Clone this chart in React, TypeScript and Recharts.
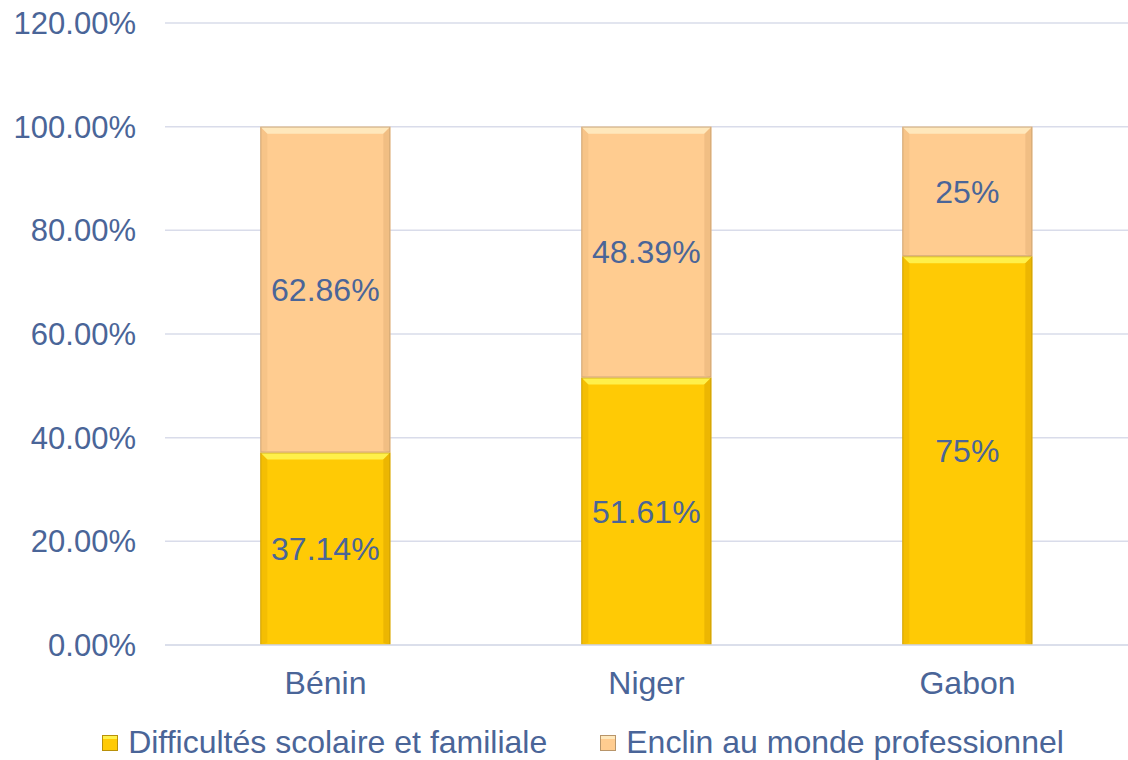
import { BarChart, Bar, XAxis, YAxis, CartesianGrid, Legend, LabelList } from "recharts";

const countries = ["Bénin", "Niger", "Gabon"];
const difficultes = [37.14, 51.61, 75];
const enclin = [62.86, 48.39, 25];
const yTicks = [0, 20, 40, 60, 80, 100, 120];

const seriesNames = ["Difficultés scolaire et familiale", "Enclin au monde professionnel"];

const data = countries.map((name, i) => ({
  name,
  difficultes: difficultes[i],
  enclin: enclin[i]
}));

const TEXT = "#4A6598";
const FONT = "'Liberation Sans', Arial, sans-serif";
const FS = 32;

const palettes: Record<string, { fill: string; light: string; dark: string; edge: string }> = {
  gold: { fill: "#FFCA05", light: "#FFF04A", dark: "#E0A800", edge: "#B8900A" },
  peach: { fill: "#FFCC90", light: "#FFE8BC", dark: "#E8B47C", edge: "#B8956A" }
};

function makeShape(key: string) {
  const p = palettes[key];
  return (props: any) => {
    const { x, y, width, height } = props;
    if (!height || height <= 0) return <g />;
    const d = Math.min(7, height / 2);
    return (
      <g>
        <rect x={x} y={y} width={width} height={height} fill={p.fill} />
        <polygon
          points={`${x},${y} ${x + width},${y} ${x + width - d},${y + d} ${x + d},${y + d}`}
          fill={p.light}
        />
        <polygon
          points={`${x},${y} ${x + d},${y + d} ${x + d},${y + height - 2} ${x},${y + height}`}
          fill={p.dark}
          opacity={0.35}
        />
        <polygon
          points={`${x + width},${y} ${x + width - d},${y + d} ${x + width - d},${y + height - 2} ${x + width},${y + height}`}
          fill={p.dark}
          opacity={0.6}
        />
        <rect x={x + 0.5} y={y + 0.5} width={width - 1} height={height - 1} fill="none" stroke={p.edge} strokeOpacity={0.6} />
      </g>
    );
  };
}

const iconColors = ["gold", "peach"];

function LegendContent() {
  return (
    <div style={{ display: "flex", justifyContent: "center", alignItems: "center", paddingLeft: 38, fontFamily: FONT }}>
      {seriesNames.map((n, i) => {
        const p = palettes[iconColors[i]];
        return (
          <div key={n} style={{ display: "flex", alignItems: "center", marginRight: i === 0 ? 53 : 0 }}>
            <span
              style={{
                display: "inline-block",
                width: 14,
                height: 14,
                background: p.fill,
                border: `1px solid ${p.edge}`,
                boxShadow: `inset 0 3px 0 ${p.light}`,
                marginRight: 10
              }}
            />
            <span style={{ color: TEXT, fontSize: FS }}>{n}</span>
          </div>
        );
      })}
    </div>
  );
}

export default function App() {
  return (
    <div style={{ position: "absolute", left: 0, top: 0, width: 1128, height: 760, background: "#fff" }}>
      <BarChart
        width={1128}
        height={760}
        data={data}
        margin={{ top: 23, right: 0, left: 0, bottom: 0 }}
        barCategoryGap="29.7%"
      >
        <CartesianGrid vertical={false} stroke="#D9DCEA" strokeWidth={1.5} />
        <XAxis
          dataKey="name"
          height={79}
          axisLine={{ stroke: "#D9DCEA", strokeWidth: 1.5 }}
          tickLine={false}
          tickSize={0}
          tickMargin={26}
          tick={{ fill: TEXT, fontSize: FS, fontFamily: FONT }}
        />
        <YAxis
          width={165}
          domain={[0, 120]}
          ticks={yTicks}
          axisLine={false}
          tickLine={false}
          tickSize={0}
          tickMargin={29}
          tickFormatter={(v: number) => `${v.toFixed(2)}%`}
          tick={{ fill: TEXT, fontSize: 31, fontFamily: FONT }}
        />
        <Legend verticalAlign="bottom" height={36} content={<LegendContent />} />
        <Bar
          dataKey="difficultes"
          name={seriesNames[0]}
          stackId="a"
          fill={palettes.gold.fill}
          shape={makeShape("gold")}
          isAnimationActive={false}
        >
          <LabelList
            dataKey="difficultes"
            position="center"
            formatter={(v: any) => `${v}%`}
            style={{ fill: TEXT, fontSize: FS, fontFamily: FONT }}
          />
        </Bar>
        <Bar
          dataKey="enclin"
          name={seriesNames[1]}
          stackId="a"
          fill={palettes.peach.fill}
          shape={makeShape("peach")}
          isAnimationActive={false}
        >
          <LabelList
            dataKey="enclin"
            position="center"
            formatter={(v: any) => `${v}%`}
            style={{ fill: TEXT, fontSize: FS, fontFamily: FONT }}
          />
        </Bar>
      </BarChart>
    </div>
  );
}
